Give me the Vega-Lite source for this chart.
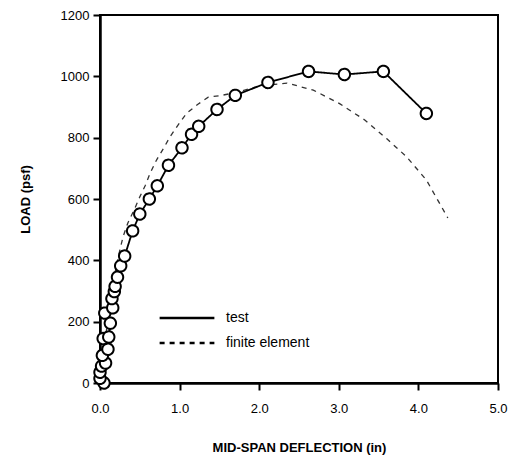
{
  "$schema": "https://vega.github.io/schema/vega-lite/v6.json",
  "width": 398,
  "height": 368,
  "autosize": {"type": "none"},
  "padding": {"left": 100, "top": 15, "right": 17, "bottom": 80},
  "background": "white",
  "config": {
    "font": "Liberation Sans",
    "view": {"stroke": "black", "strokeWidth": 2},
    "axis": {
      "grid": false,
      "domainColor": "black",
      "domainWidth": 2.5,
      "tickColor": "black",
      "tickWidth": 2,
      "tickSize": 7,
      "labelFlush": false,
      "labelFont": "Liberation Sans",
      "labelFontSize": 13,
      "labelColor": "black",
      "titleFont": "Liberation Sans",
      "titleFontSize": 13,
      "titleFontWeight": "bold",
      "titleColor": "black"
    }
  },
  "datasets": {
    "test": [
      {"n": 1, "defl": 0.05, "load": 0},
      {"n": 2, "defl": 0.00, "load": 15},
      {"n": 3, "defl": 0.00, "load": 35},
      {"n": 4, "defl": 0.02, "load": 55},
      {"n": 5, "defl": 0.07, "load": 65},
      {"n": 6, "defl": 0.03, "load": 90},
      {"n": 7, "defl": 0.10, "load": 110},
      {"n": 8, "defl": 0.04, "load": 145},
      {"n": 9, "defl": 0.11, "load": 150},
      {"n": 10, "defl": 0.13, "load": 195},
      {"n": 11, "defl": 0.06, "load": 228},
      {"n": 12, "defl": 0.16, "load": 245},
      {"n": 13, "defl": 0.15, "load": 275},
      {"n": 14, "defl": 0.18, "load": 298},
      {"n": 15, "defl": 0.19, "load": 315},
      {"n": 16, "defl": 0.22, "load": 345},
      {"n": 17, "defl": 0.26, "load": 382},
      {"n": 18, "defl": 0.31, "load": 414},
      {"n": 19, "defl": 0.41, "load": 496},
      {"n": 20, "defl": 0.50, "load": 551},
      {"n": 21, "defl": 0.62, "load": 600},
      {"n": 22, "defl": 0.72, "load": 643},
      {"n": 23, "defl": 0.86, "load": 710},
      {"n": 24, "defl": 1.03, "load": 767},
      {"n": 25, "defl": 1.15, "load": 811},
      {"n": 26, "defl": 1.24, "load": 837},
      {"n": 27, "defl": 1.47, "load": 892},
      {"n": 28, "defl": 1.70, "load": 938},
      {"n": 29, "defl": 2.11, "load": 980},
      {"n": 30, "defl": 2.62, "load": 1016},
      {"n": 31, "defl": 3.07, "load": 1006},
      {"n": 32, "defl": 3.56, "load": 1016},
      {"n": 33, "defl": 4.10, "load": 879}
    ],
    "fe": [
      {"defl": 0.00, "load": 0},
      {"defl": 0.05, "load": 110},
      {"defl": 0.10, "load": 210},
      {"defl": 0.15, "load": 300},
      {"defl": 0.20, "load": 375},
      {"defl": 0.25, "load": 434},
      {"defl": 0.29, "load": 477},
      {"defl": 0.35, "load": 522},
      {"defl": 0.44, "load": 571},
      {"defl": 0.50, "load": 607},
      {"defl": 0.57, "load": 645},
      {"defl": 0.63, "load": 684},
      {"defl": 0.71, "load": 727},
      {"defl": 0.80, "load": 766},
      {"defl": 0.88, "load": 803},
      {"defl": 0.98, "load": 841},
      {"defl": 1.09, "load": 880},
      {"defl": 1.23, "load": 909},
      {"defl": 1.36, "load": 932},
      {"defl": 1.53, "load": 938},
      {"defl": 1.70, "load": 947},
      {"defl": 2.00, "load": 968},
      {"defl": 2.35, "load": 978},
      {"defl": 2.68, "load": 955},
      {"defl": 3.01, "load": 911},
      {"defl": 3.33, "load": 857},
      {"defl": 3.60, "load": 797},
      {"defl": 3.85, "load": 738},
      {"defl": 4.10, "load": 662},
      {"defl": 4.37, "load": 538}
    ]
  },
  "layer": [
    {
      "data": {"name": "fe"},
      "transform": [{"calculate": "'finite element'", "as": "series"}],
      "mark": {"type": "line", "color": "#333", "strokeWidth": 1.3},
      "encoding": {
        "x": {"field": "defl", "type": "quantitative"},
        "y": {"field": "load", "type": "quantitative"},
        "strokeDash": {
          "field": "series",
          "type": "nominal",
          "scale": {"domain": ["test", "finite element"], "range": [[1, 0], [5, 5]]},
          "legend": {
            "title": null,
            "orient": "none",
            "legendX": 58,
            "legendY": 293,
            "symbolType": "stroke",
            "symbolSize": 3000,
            "symbolStrokeWidth": 2.5,
            "symbolStrokeColor": "black",
            "labelFontSize": 14,
            "labelFont": "Liberation Sans",
            "labelColor": "black",
            "labelOffset": 10,
            "clipHeight": 20,
            "rowPadding": 5
          }
        }
      }
    },
    {
      "data": {"name": "test"},
      "transform": [{"calculate": "'test'", "as": "series"}],
      "mark": {
        "type": "line",
        "color": "black",
        "strokeWidth": 1.8,
        "point": {"filled": true, "fill": "white", "stroke": "black", "strokeWidth": 2, "size": 130, "opacity": 1}
      },
      "encoding": {
        "x": {
          "field": "defl",
          "type": "quantitative",
          "title": "MID-SPAN DEFLECTION (in)",
          "scale": {"domain": [0, 5], "nice": false, "zero": false},
          "axis": {"values": [0, 1, 2, 3, 4, 5], "format": ".1f", "labelPadding": 12, "titlePadding": 26}
        },
        "y": {
          "field": "load",
          "type": "quantitative",
          "title": "LOAD (psf)",
          "scale": {"domain": [0, 1200], "nice": false},
          "axis": {"values": [0, 200, 400, 600, 800, 1000, 1200], "format": "d", "labelPadding": 4, "titlePadding": 28}
        },
        "order": {"field": "n", "type": "quantitative"},
        "strokeDash": {"field": "series", "type": "nominal"}
      }
    }
  ]
}
